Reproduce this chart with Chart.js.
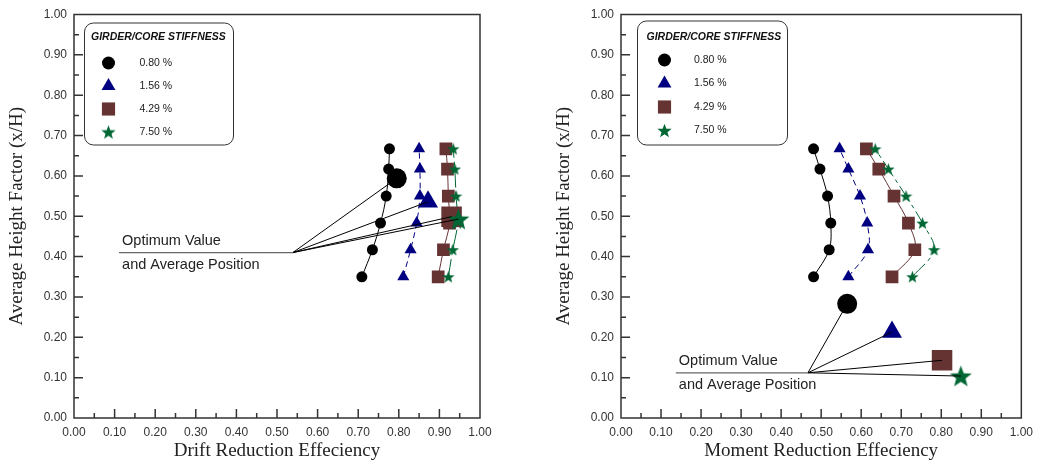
<!DOCTYPE html>
<html>
<head>
<meta charset="utf-8">
<script src="https://cdn.jsdelivr.net/npm/chart.js@4.4.0/dist/chart.umd.min.js"></script>
<style>
  html, body { margin: 0; padding: 0; background: #fff; overflow: hidden; }
  #wrap { position: relative; width: 1040px; height: 462px; }
  #driftChart { position: absolute; left: 0; top: 0; }
  #momentChart { position: absolute; left: 547px; top: 0; }
</style>
</head>
<body>
<div id="wrap">
  <canvas id="driftChart" width="520" height="462"></canvas>
  <canvas id="momentChart" width="493" height="462"></canvas>
</div>
<script>
// data
const heights = [0.35, 0.417, 0.483, 0.55, 0.617, 0.667];
const stiffness = ['0.80 %', '1.56 %', '4.29 %', '7.50 %'];
const legendTitle = 'GIRDER/CORE STIFFNESS';

const drift080 = [0.709, 0.735, 0.755, 0.769, 0.775, 0.777];
const drift156 = [0.811, 0.829, 0.844, 0.852, 0.852, 0.850];
const drift429 = [0.897, 0.910, 0.925, 0.922, 0.920, 0.916];
const drift750 = [0.922, 0.933, 0.945, 0.941, 0.938, 0.934];

const moment080 = [0.481, 0.520, 0.524, 0.516, 0.497, 0.481];
const moment156 = [0.568, 0.617, 0.615, 0.597, 0.568, 0.546];
const moment429 = [0.677, 0.734, 0.718, 0.682, 0.644, 0.613];
const moment750 = [0.728, 0.782, 0.753, 0.712, 0.668, 0.635];

// optimum value and average position
const driftOptX = [0.795, 0.872, 0.930, 0.947];
const driftOptY = [0.594, 0.536, 0.499, 0.493];
const momentOptX = [0.565, 0.677, 0.802, 0.849];
const momentOptY = [0.283, 0.213, 0.143, 0.104];

// callout: pivot point and where the label line starts
const driftPivot = [0.539, 0.41];
const driftLabelX = 0.111;
const momentPivot = [0.467, 0.112];
const momentLabelX = 0.137;
const calloutText = ['Optimum Value', 'and Average Position'];

// styles
const colors = ['#000000', '#000080', '#663333', '#006633'];
const dashes = [[], [6, 4], [], [18, 4, 4, 4]];

function makeStar(size, color) {
  const c = document.createElement('canvas');
  c.width = size;
  c.height = size;
  const g = c.getContext('2d');
  const R = size / 2, r = R * 0.42, cx = R, cy = R * 1.09;
  g.beginPath();
  for (let i = 0; i < 10; i++) {
    const rad = i % 2 ? r : R;
    const a = -Math.PI / 2 + i * Math.PI / 5;
    g.lineTo(cx + rad * Math.cos(a), cy + rad * Math.sin(a));
  }
  g.closePath();
  g.fillStyle = color;
  g.fill();
  return c;
}

const smallStyles = ['circle', 'triangle', 'rect', makeStar(13, colors[3])];
const smallRadius = [5.5, 7, 9, 6.5];
const bigStyles = ['circle', 'triangle', 'rect', makeStar(23, colors[3])];
const bigRadius = [10, 11.5, 14.5, 11.5];
const legendStyles = ['circle', 'triangle', 'rect', makeStar(15, colors[3])];
const legendRadius = [6.5, 8, 9.3, 7.5];

function buildDatasets(series, optX, optY, pivot, labelX) {
  const ds = [];
  ds.push({
    data: [{x: labelX, y: pivot[1]}, {x: pivot[0], y: pivot[1]}],
    showLine: true, borderColor: '#666', borderWidth: 1.2, pointRadius: 0, order: 0
  });
  optX.forEach((x, i) => ds.push({
    data: [{x: pivot[0], y: pivot[1]}, {x: x, y: optY[i]}],
    showLine: true, borderColor: '#000', borderWidth: 1, pointRadius: 0, order: 0
  }));
  optX.forEach((x, i) => ds.push({
    data: [{x: x, y: optY[i]}],
    showLine: false,
    pointStyle: bigStyles[i], pointRadius: bigRadius[i],
    pointBackgroundColor: colors[i], pointBorderWidth: 0,
    order: 1 + (3 - i) * 0.1
  }));
  series.forEach((arr, i) => ds.push({
    label: stiffness[i],
    data: arr.map((x, j) => ({x: x, y: heights[j]})),
    showLine: true, tension: 0.35,
    borderColor: colors[i], borderWidth: 1, borderDash: dashes[i],
    pointStyle: smallStyles[i], pointRadius: smallRadius[i],
    pointBackgroundColor: colors[i], pointBorderWidth: 0,
    order: 2 + (3 - i) * 0.1
  }));
  return ds;
}

const frame = {
  id: 'frame',
  afterDatasetsDraw(chart) {
    const {ctx, chartArea: a, scales: {x, y}} = chart;
    ctx.save();
    ctx.strokeStyle = '#333';
    ctx.lineWidth = 1.5;
    ctx.beginPath();
    ctx.rect(a.left, a.top, a.right - a.left, a.bottom - a.top);
    for (let i = 1; i < 20; i++) {
      const v = i / 20;
      const len = i % 2 ? 5 : 9;
      const px = x.getPixelForValue(v);
      ctx.moveTo(px, a.bottom);
      ctx.lineTo(px, a.bottom - len);
      const py = y.getPixelForValue(v);
      ctx.moveTo(a.left, py);
      ctx.lineTo(a.left + len, py);
    }
    ctx.stroke();
    ctx.restore();
  }
};

function drawMarker(ctx, style, radius, color, x, y) {
  if (style instanceof HTMLCanvasElement) {
    ctx.drawImage(style, x - style.width / 2, y - style.height / 2);
    return;
  }
  ctx.fillStyle = color;
  ctx.beginPath();
  if (style === 'circle') {
    ctx.arc(x, y, radius, 0, Math.PI * 2);
  } else if (style === 'triangle') {
    for (let k = 0; k < 3; k++) {
      const a = k * 2 * Math.PI / 3;
      ctx.lineTo(x + Math.sin(a) * radius, y - Math.cos(a) * radius);
    }
    ctx.closePath();
  } else {
    const s = radius * Math.SQRT1_2;
    ctx.rect(x - s, y - s, 2 * s, 2 * s);
  }
  ctx.fill();
}

const legendBox = {
  id: 'legendBox',
  afterDraw(chart, args, o) {
    const {ctx, chartArea: a} = chart;
    const bx = a.left + o.x, by = a.top + o.y;
    ctx.save();
    ctx.strokeStyle = '#333';
    ctx.lineWidth = 1;
    ctx.beginPath();
    ctx.roundRect(bx + 0.5, by + 0.5, o.w, o.h, 9);
    ctx.stroke();
    ctx.fillStyle = '#111';
    ctx.textBaseline = 'middle';
    ctx.font = 'italic bold 10.5px "Liberation Sans"';
    ctx.fillText(legendTitle, bx + o.titleX, by + o.titleY);
    ctx.font = '10.5px "Liberation Sans"';
    stiffness.forEach((t, i) => {
      const ry = by + o.rowY + i * o.rowGap;
      drawMarker(ctx, legendStyles[i], legendRadius[i], colors[i], bx + o.markX, ry);
      ctx.fillStyle = '#222';
      ctx.fillText(t, bx + o.textX, ry);
    });
    ctx.restore();
  }
};

const callout = {
  id: 'callout',
  afterDraw(chart, args, o) {
    const {ctx, scales: {x, y}} = chart;
    const tx = x.getPixelForValue(o.startX) + 3;
    const ty = y.getPixelForValue(o.pivotY);
    ctx.save();
    ctx.fillStyle = '#222';
    ctx.font = '14.5px "Liberation Sans"';
    ctx.textBaseline = 'middle';
    ctx.fillText(calloutText[0], tx, ty - 12);
    ctx.fillText(calloutText[1], tx, ty + 12);
    ctx.restore();
  }
};

function axis(title, fit) {
  return {
    type: 'linear',
    min: 0,
    max: 1,
    ticks: {
      stepSize: 0.1,
      autoSkip: false,
      maxRotation: 0,
      padding: 7,
      color: '#333',
      font: {family: 'Liberation Sans', size: 12},
      callback: v => v.toFixed(2)
    },
    grid: {display: false, drawTicks: false},
    border: {display: false},
    title: {
      display: true,
      text: title,
      color: '#222',
      padding: 0,
      font: {family: 'Liberation Serif', size: 19}
    },
    afterFit: fit
  };
}

function makeChart(id, series, optX, optY, pivot, labelX, xTitle, rightPad, legendOpts) {
  return new Chart(document.getElementById(id), {
    type: 'scatter',
    data: {datasets: buildDatasets(series, optX, optY, pivot, labelX)},
    options: {
      responsive: false,
      animation: false,
      events: [],
      layout: {padding: {left: 6, top: 13, right: rightPad, bottom: 0}},
      scales: {
        x: axis(xTitle, s => { s.height = 44; }),
        y: axis('Average Height Factor (x/H)', s => { s.width = 68; })
      },
      plugins: {
        legend: {display: false},
        tooltip: {enabled: false},
        legendBox: legendOpts,
        callout: {startX: labelX, pivotY: pivot[1]}
      }
    },
    plugins: [frame, legendBox, callout]
  });
}

makeChart('driftChart', [drift080, drift156, drift429, drift750],
  driftOptX, driftOptY, driftPivot, driftLabelX,
  'Drift Reduction Effeciency', 40,
  {x: 10, y: 8, w: 149, h: 122, titleX: 7, titleY: 15, markX: 24.5, textX: 55.5, rowY: 40.5, rowGap: 23});

makeChart('momentChart', [moment080, moment156, moment429, moment750],
  momentOptX, momentOptY, momentPivot, momentLabelX,
  'Moment Reduction Effeciency', 14,
  {x: 16, y: 6, w: 150, h: 124, titleX: 9.5, titleY: 16.5, markX: 27.5, textX: 57, rowY: 39.5, rowGap: 23.5});
</script>
</body>
</html>
